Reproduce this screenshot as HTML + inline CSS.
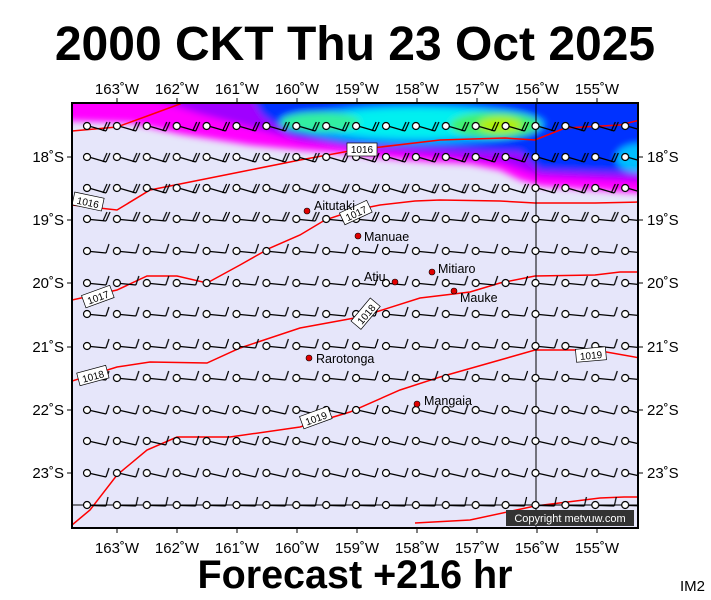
<!DOCTYPE html>
<html><head><meta charset="utf-8"><style>
html,body{margin:0;padding:0;background:#fff;}
svg{display:block;font-family:"Liberation Sans",sans-serif;}
</style></head><body>
<svg width="711" height="600" viewBox="0 0 711 600" xmlns="http://www.w3.org/2000/svg" xmlns:xlink="http://www.w3.org/1999/xlink">
<defs>
<clipPath id="c"><rect x="72" y="103" width="566" height="425"/></clipPath>
<filter id="b" x="-20%" y="-50%" width="140%" height="200%"><feGaussianBlur stdDeviation="3.5"/></filter>
<g id="gA"><line x1="11.5" y1="20.5" x2="27" y2="25"/><line x1="27" y1="25" x2="31" y2="16"/><line x1="24" y1="25" x2="28" y2="16"/><circle cx="8" cy="20" r="3.5" fill="#fff"/></g>
<g id="gB"><line x1="11.5" y1="20.5" x2="27" y2="22"/><line x1="27" y1="22" x2="31" y2="13"/><line x1="24" y1="22" x2="28" y2="13"/><circle cx="8" cy="20" r="3.5" fill="#fff"/></g>
<g id="gC"><line x1="11.5" y1="20.5" x2="27" y2="22"/><line x1="27" y1="22" x2="30" y2="13"/><circle cx="8" cy="20" r="3.5" fill="#fff"/></g>
<g id="gD"><line x1="11.5" y1="20.5" x2="27" y2="24"/><line x1="27" y1="24" x2="30" y2="15"/><circle cx="8" cy="20" r="3.5" fill="#fff"/></g>
<g id="gE"><line x1="11.5" y1="20.5" x2="27" y2="21"/><line x1="27" y1="21" x2="29" y2="12"/><circle cx="8" cy="20" r="3.5" fill="#fff"/></g>
<pattern id="pA" patternUnits="userSpaceOnUse" x="79" y="-20" width="29.9" height="40"><g stroke="#000" stroke-width="1.2" fill="none"><use xlink:href="#gA"/><use xlink:href="#gA" x="-29.9"/></g></pattern>
<pattern id="pB" patternUnits="userSpaceOnUse" x="79" y="-20" width="29.9" height="40"><g stroke="#000" stroke-width="1.2" fill="none"><use xlink:href="#gB"/><use xlink:href="#gB" x="-29.9"/></g></pattern>
<pattern id="pC" patternUnits="userSpaceOnUse" x="79" y="-20" width="29.9" height="40"><g stroke="#000" stroke-width="1.2" fill="none"><use xlink:href="#gC"/><use xlink:href="#gC" x="-29.9"/></g></pattern>
<pattern id="pD" patternUnits="userSpaceOnUse" x="79" y="-20" width="29.9" height="40"><g stroke="#000" stroke-width="1.2" fill="none"><use xlink:href="#gD"/><use xlink:href="#gD" x="-29.9"/></g></pattern>
<pattern id="pE" patternUnits="userSpaceOnUse" x="79" y="-20" width="29.9" height="40"><g stroke="#000" stroke-width="1.2" fill="none"><use xlink:href="#gE"/><use xlink:href="#gE" x="-29.9"/></g></pattern>
</defs>
<text x="355" y="60" text-anchor="middle" font-size="48" font-weight="bold">2000 CKT Thu 23 Oct 2025</text>
<rect x="72" y="103" width="566" height="425" fill="#e6e6fa"/>
<g clip-path="url(#c)">
<g filter="url(#b)">
<polygon fill="#ff00ff" points="60,95 650,95 650,194 580,189 540,186 520,180 500,170 470,164 430,162 380,158 340,153 300,150 250,145 180,134 130,123 72,121 60,121"/>
<polygon fill="#a000ff" points="140,95 650,95 650,182 540,176 500,162 440,156 380,151 300,141 260,130 200,114"/>
<polygon fill="#0030ff" points="250,95 650,95 650,174 540,170 520,152 440,149 350,146 290,135 262,115"/>
<ellipse cx="420" cy="124" rx="125" ry="20" fill="#00a8ff"/>
<ellipse cx="420" cy="123" rx="105" ry="15" fill="#00f0f0"/>
<ellipse cx="320" cy="122" rx="40" ry="10" fill="#30f0a0"/>
<ellipse cx="495" cy="125" rx="45" ry="13" fill="#40f070"/>
<ellipse cx="500" cy="125" rx="22" ry="8" fill="#b0f000"/>
<ellipse cx="638" cy="158" rx="22" ry="14" fill="#00c0ff"/>
</g>
<g fill="none" stroke="#ff0000" stroke-width="1.5">
<polyline points="72,131 117,127 150,115 180,104 186,100"/>
<polyline points="72,205 117,210 150,190 240,172 300,160 355,150 440,140 505,138 535,140 565,128 620,125 640,120"/>
<polyline points="72,300 117,290 147,276 177,276 207,283 240,265 270,248 300,235 325,220 355,210 380,205 415,201 440,200 500,201 535,203 595,203 640,202"/>
<polyline points="72,381 117,367 150,362 207,363 240,348 300,328 360,317 420,298 470,292 500,283 535,276 595,275 620,272 640,272"/>
<polyline points="72,525 90,510 117,475 147,450 177,437 230,437 300,427 350,412 400,390 440,377 500,360 535,350 595,350 640,358"/>
<polyline points="415,523 470,520 535,506 600,498 624,497 640,497"/>
</g>
<line x1="536" y1="103" x2="536" y2="528" stroke="#000"/>
<line x1="72" y1="505" x2="638" y2="505" stroke="#000"/>
<rect x="82" y="-10" width="570" height="24" fill="url(#pA)" transform="translate(0,126)"/>
<rect x="82" y="-10" width="570" height="24" fill="url(#pA)" transform="translate(0,157)"/>
<rect x="82" y="-10" width="570" height="24" fill="url(#pA)" transform="translate(0,188)"/>
<rect x="82" y="-10" width="570" height="24" fill="url(#pB)" transform="translate(0,219)"/>
<rect x="82" y="-10" width="570" height="24" fill="url(#pC)" transform="translate(0,251)"/>
<rect x="82" y="-10" width="570" height="24" fill="url(#pC)" transform="translate(0,283)"/>
<rect x="82" y="-10" width="570" height="24" fill="url(#pC)" transform="translate(0,314)"/>
<rect x="82" y="-10" width="570" height="24" fill="url(#pC)" transform="translate(0,346)"/>
<rect x="82" y="-10" width="570" height="24" fill="url(#pC)" transform="translate(0,378)"/>
<rect x="82" y="-10" width="570" height="24" fill="url(#pD)" transform="translate(0,410)"/>
<rect x="82" y="-10" width="570" height="24" fill="url(#pD)" transform="translate(0,441)"/>
<rect x="82" y="-10" width="570" height="24" fill="url(#pD)" transform="translate(0,473)"/>
<rect x="82" y="-10" width="570" height="24" fill="url(#pE)" transform="translate(0,505)"/>
<g font-size="10" text-anchor="middle">
<rect x="347" y="143" width="30" height="13" fill="#fff" stroke="#000" stroke-width=".7"/><text x="362" y="153">1016</text>
<g transform="translate(88,202) rotate(12)"><rect x="-15" y="-7" width="30" height="13" fill="#fff" stroke="#000" stroke-width=".7"/><text y="4">1016</text></g>
<g transform="translate(356,213) rotate(-25)"><rect x="-15" y="-7" width="30" height="13" fill="#fff" stroke="#000" stroke-width=".7"/><text y="4">1017</text></g>
<g transform="translate(98,297) rotate(-20)"><rect x="-15" y="-7" width="30" height="13" fill="#fff" stroke="#000" stroke-width=".7"/><text y="4">1017</text></g>
<g transform="translate(93,376) rotate(-15)"><rect x="-15" y="-7" width="30" height="13" fill="#fff" stroke="#000" stroke-width=".7"/><text y="4">1018</text></g>
<g transform="translate(366,314) rotate(-50)"><rect x="-15" y="-7" width="30" height="13" fill="#fff" stroke="#000" stroke-width=".7"/><text y="4">1018</text></g>
<g transform="translate(316,418) rotate(-20)"><rect x="-15" y="-7" width="30" height="13" fill="#fff" stroke="#000" stroke-width=".7"/><text y="4">1019</text></g>
<g transform="translate(591,355) rotate(-5)"><rect x="-15" y="-7" width="30" height="13" fill="#fff" stroke="#000" stroke-width=".7"/><text y="4">1019</text></g>
</g>
<g fill="#e00000" stroke="#000" stroke-width=".6">
<circle cx="307" cy="211" r="3"/><circle cx="358" cy="236" r="3"/><circle cx="395" cy="282" r="3"/>
<circle cx="432" cy="272" r="3"/><circle cx="454" cy="291" r="3"/><circle cx="309" cy="358" r="3"/><circle cx="417" cy="404" r="3"/>
</g>
<g font-size="12.5">
<text x="314" y="210">Aitutaki</text><text x="364" y="241">Manuae</text><text x="364" y="281">Atiu</text>
<text x="438" y="273">Mitiaro</text><text x="460" y="302">Mauke</text><text x="316" y="363">Rarotonga</text><text x="424" y="405">Mangaia</text>
</g>
<rect x="506" y="510" width="128" height="16" fill="#333"/>
<text x="570" y="522" font-size="11" fill="#fff" text-anchor="middle">Copyright metvuw.com</text>
</g>
<rect x="72" y="103" width="566" height="425" fill="none" stroke="#000" stroke-width="2"/>
<g stroke="#000">
<path d="M117,98V103M177,98V103M237,98V103M297,98V103M357,98V103M417,98V103M477,98V103M537,98V103M597,98V103"/>
<path d="M117,528V533M177,528V533M237,528V533M297,528V533M357,528V533M417,528V533M477,528V533M537,528V533M597,528V533"/>
<path d="M67,157H72M67,220H72M67,283H72M67,347H72M67,410H72M67,473H72M638,157H643M638,220H643M638,283H643M638,347H643M638,410H643M638,473H643"/>
</g>
<g font-size="15" text-anchor="middle">
<text x="117" y="94">163˚W</text><text x="177" y="94">162˚W</text><text x="237" y="94">161˚W</text><text x="297" y="94">160˚W</text><text x="357" y="94">159˚W</text><text x="417" y="94">158˚W</text><text x="477" y="94">157˚W</text><text x="537" y="94">156˚W</text><text x="597" y="94">155˚W</text>
<text x="117" y="553">163˚W</text><text x="177" y="553">162˚W</text><text x="237" y="553">161˚W</text><text x="297" y="553">160˚W</text><text x="357" y="553">159˚W</text><text x="417" y="553">158˚W</text><text x="477" y="553">157˚W</text><text x="537" y="553">156˚W</text><text x="597" y="553">155˚W</text>
</g>
<g font-size="15" text-anchor="end">
<text x="64" y="162">18˚S</text><text x="64" y="225">19˚S</text><text x="64" y="288">20˚S</text><text x="64" y="352">21˚S</text><text x="64" y="415">22˚S</text><text x="64" y="478">23˚S</text>
</g>
<g font-size="15">
<text x="647" y="162">18˚S</text><text x="647" y="225">19˚S</text><text x="647" y="288">20˚S</text><text x="647" y="352">21˚S</text><text x="647" y="415">22˚S</text><text x="647" y="478">23˚S</text>
</g>
<text x="355" y="588" text-anchor="middle" font-size="39.5" font-weight="bold">Forecast +216 hr</text>
<text x="680" y="591" font-size="15">IM2</text>
</svg>
</body></html>
